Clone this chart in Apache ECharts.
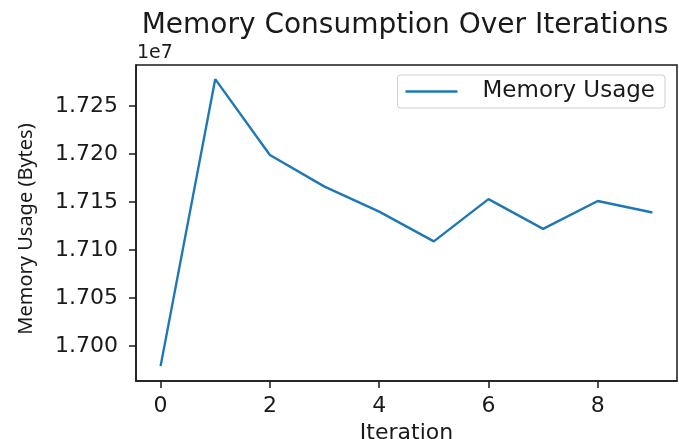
<!DOCTYPE html>
<html>
<head>
<meta charset="utf-8">
<script src="https://cdn.jsdelivr.net/npm/echarts@6/dist/echarts.min.js"></script>
<style>
html,body{margin:0;padding:0;background:#fff;}
#chart{width:679px;height:439px;}
</style>
</head>
<body>
<div id="chart"></div>
<script>
// Data
const iterations = [0, 1, 2, 3, 4, 5, 6, 7, 8, 9];
const memoryUsage = [16979000, 17278000, 17199000, 17166000, 17140000, 17109000, 17153000, 17122000, 17151000, 17139000];
const xTicks = [0, 2, 4, 6, 8];
const yTicks = [17000000, 17050000, 17100000, 17150000, 17200000, 17250000];
const titleText = 'Memory Consumption Over Iterations';
const seriesName = 'Memory Usage';
const xName = 'Iteration';
const yName = 'Memory Usage (Bytes)';
const offsetText = '1e7';

const chart = echarts.init(document.getElementById('chart'), null, {renderer: 'canvas'});
const txt = '#1a1a1a';
const font = 'DejaVu Sans';

chart.setOption({
  animation: false,
  backgroundColor: '#ffffff',
  title: {
    text: titleText,
    left: 400,
    textAlign: 'center',
    top: 7,
    textStyle: {fontFamily: font, fontSize: 28, fontWeight: 'normal', color: txt}
  },
  graphic: [{
    type: 'text',
    left: 137,
    top: 44,
    style: {text: offsetText, font: '19px "DejaVu Sans"', fill: txt}
  }],
  legend: {
    right: 14,
    top: 75,
    icon: 'rect',
    itemWidth: 52,
    itemHeight: 2.5,
    padding: [5, 10, 5, 8],
    backgroundColor: '#ffffff',
    borderColor: '#d0d0d0',
    borderWidth: 1,
    borderRadius: 3,
    textStyle: {fontFamily: font, fontSize: 23, color: txt, padding: [0, 0, 0, 20]},
    data: [seriesName]
  },
  grid: {
    left: 136, right: 2, top: 65, bottom: 58,
    show: true, borderColor: '#1a1a1a', borderWidth: 1.5,
    containLabel: false,
    outerBoundsMode: 'none'
  },
  xAxis: {
    type: 'value',
    min: -0.45,
    max: 9.45,
    name: xName,
    nameLocation: 'middle',
    nameGap: 37,
    nameTextStyle: {fontFamily: font, fontSize: 22, color: txt},
    axisLine: {show: true, onZero: false, lineStyle: {color: '#1a1a1a', width: 1.5}},
    axisTick: {show: true, length: 7, customValues: xTicks, lineStyle: {color: '#1a1a1a', width: 1.5}},
    axisLabel: {customValues: xTicks, margin: 14, fontFamily: font, fontSize: 22, color: txt},
    splitLine: {show: false}
  },
  yAxis: {
    type: 'value',
    min: 16963500,
    max: 17292700,
    name: yName,
    nameLocation: 'middle',
    nameGap: 100,
    nameRotate: 90,
    nameTextStyle: {fontFamily: 'Noto Sans', fontSize: 20, color: txt, padding: [0, 12, 0, 0]},
    axisLine: {show: true, onZero: false, lineStyle: {color: '#1a1a1a', width: 1.5}},
    axisTick: {show: true, length: 7, customValues: yTicks, lineStyle: {color: '#1a1a1a', width: 1.5}},
    axisLabel: {
      customValues: yTicks, margin: 18, fontFamily: font, fontSize: 22, color: txt,
      formatter: v => (v / 1e7).toFixed(3)
    },
    splitLine: {show: false}
  },
  series: [{
    name: seriesName,
    type: 'line',
    data: iterations.map((x, i) => [x, memoryUsage[i]]),
    showSymbol: false,
    symbol: 'none',
    lineStyle: {color: '#1f77b4', width: 2.4},
    itemStyle: {color: '#1f77b4'}
  }]
});
</script>
</body>
</html>
